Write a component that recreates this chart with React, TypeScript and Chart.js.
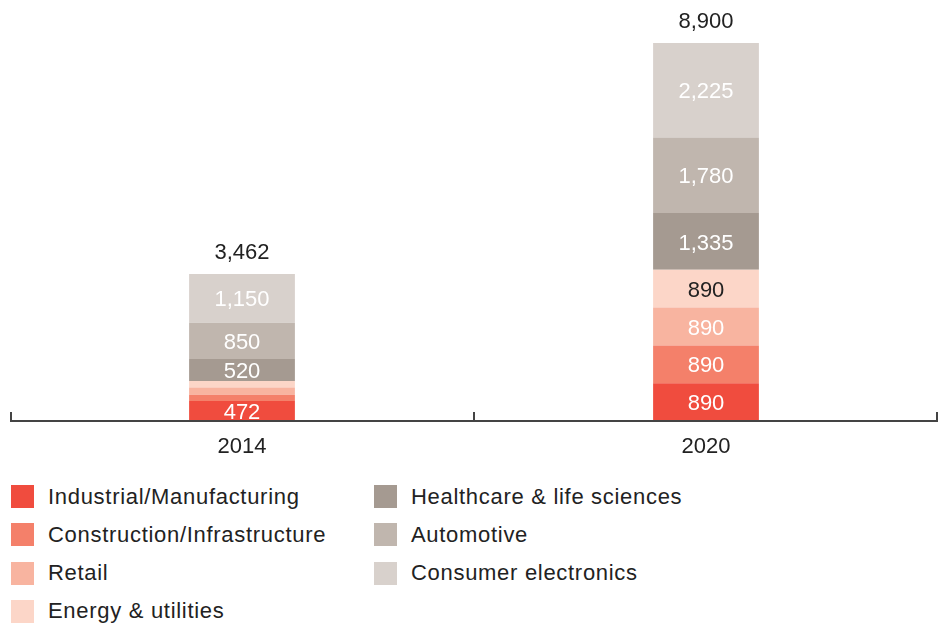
import React, { useEffect, useRef } from "react";
import { Chart, registerables } from "chart.js";

Chart.register(...registerables);

const years = ["2014", "2020"];
const seriesNames = [
  "Industrial/Manufacturing",
  "Construction/Infrastructure",
  "Retail",
  "Energy & utilities",
  "Healthcare & life sciences",
  "Automotive",
  "Consumer electronics",
];
const industrial = [472, 890];
const construction = [145, 890];
const retail = [170, 890];
const energy = [155, 890];
const healthcare = [520, 1335];
const automotive = [850, 1780];
const consumer = [1150, 2225];
const totals = [3462, 8900];

const colors = ["#f04c3e", "#f4806a", "#f8b4a0", "#fcd6c8", "#a59a91", "#c0b6ae", "#d8d1cc"];
const labelColors = ["#ffffff", "#ffffff", "#ffffff", "#222222", "#ffffff", "#ffffff", "#ffffff"];
const FONT = "'Liberation Sans', Arial, Helvetica, sans-serif";

const fmt = (v: number) => v.toLocaleString("en-US");

const labelPlugin = {
  id: "labels",
  afterDatasetsDraw(chart: any) {
    const ctx = chart.ctx;
    ctx.save();
    ctx.font = `22px ${FONT}`;
    ctx.textAlign = "center";
    ctx.textBaseline = "middle";
    chart.data.datasets.forEach((ds: any, di: number) => {
      const meta = chart.getDatasetMeta(di);
      meta.data.forEach((bar: any, i: number) => {
        const h = Math.abs(bar.base - bar.y);
        if (h < 18) return;
        ctx.fillStyle = labelColors[di];
        ctx.fillText(fmt(ds.data[i]), bar.x, (bar.y + bar.base) / 2 + 2);
      });
    });
    const lastMeta = chart.getDatasetMeta(chart.data.datasets.length - 1);
    ctx.fillStyle = "#222222";
    ctx.textBaseline = "alphabetic";
    lastMeta.data.forEach((bar: any, i: number) => {
      ctx.fillText(fmt(totals[i]), bar.x, bar.y - 15);
    });
    // axis line with upward ticks
    const area = chart.chartArea;
    ctx.strokeStyle = "#444444";
    ctx.lineWidth = 2;
    ctx.beginPath();
    ctx.moveTo(area.left, area.bottom);
    ctx.lineTo(area.right, area.bottom);
    const n = years.length;
    const w = (area.right - area.left) / n;
    for (let k = 0; k <= n; k++) {
      const x = Math.round(area.left + k * w) + (k === 0 ? 1 : k === n ? -1 : 0);
      ctx.moveTo(x, area.bottom);
      ctx.lineTo(x, area.bottom - 9);
    }
    ctx.stroke();
    ctx.restore();
  },
};

export default function App() {
  const ref = useRef<HTMLCanvasElement>(null);
  useEffect(() => {
    const seriesData = [industrial, construction, retail, energy, healthcare, automotive, consumer];
    const chart = new Chart(ref.current!, {
      type: "bar",
      data: {
        labels: years,
        datasets: seriesNames.map((name, i) => ({
          label: name,
          data: seriesData[i],
          backgroundColor: colors[i],
          borderWidth: 0,
          barPercentage: 0.228,
          categoryPercentage: 1,
        })),
      },
      options: {
        animation: false,
        responsive: false,
        maintainAspectRatio: false,
        layout: { padding: { top: 43, left: 10, right: 11, bottom: 0 } },
        plugins: { legend: { display: false }, tooltip: { enabled: false } },
        scales: {
          x: {
            stacked: true,
            grid: { display: false },
            border: { display: false },
            ticks: { color: "#222222", font: { size: 22, family: FONT }, padding: 5 },
            afterFit: (s: any) => {
              s.height = 49;
            },
          },
          y: { stacked: true, display: false, min: 0, max: 8900 },
        },
      },
      plugins: [labelPlugin],
    });
    return () => chart.destroy();
  }, []);

  const col1 = seriesNames.slice(0, 4).map((n, i) => ({ n, c: colors[i] }));
  const col2 = seriesNames.slice(4).map((n, i) => ({ n, c: colors[i + 4] }));
  const item = (it: { n: string; c: string }, x: number, row: number) => (
    <div
      key={it.n}
      style={{ position: "absolute", left: x, top: 485 + row * 38.3, height: 23, display: "flex", alignItems: "center" }}
    >
      <div style={{ width: 23, height: 23, background: it.c, marginRight: 14, flexShrink: 0 }} />
      <span style={{ fontFamily: FONT, fontSize: 22, letterSpacing: 0.7, color: "#222222", whiteSpace: "nowrap" }}>{it.n}</span>
    </div>
  );

  return (
    <div style={{ position: "absolute", left: 0, top: 0, width: 949, height: 623, background: "#ffffff" }}>
      <canvas ref={ref} width={949} height={470} style={{ position: "absolute", left: 0, top: 0 }} />
      {col1.map((it, i) => item(it, 11, i))}
      {col2.map((it, i) => item(it, 374, i))}
    </div>
  );
}
